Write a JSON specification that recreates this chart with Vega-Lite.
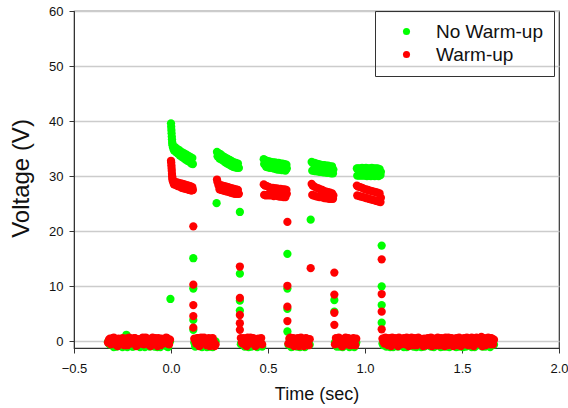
{
  "$schema": "https://vega.github.io/schema/vega-lite/v6.json",
  "width": 485,
  "height": 337,
  "autosize": {"type": "none"},
  "padding": {"left": 74, "top": 11, "right": 9, "bottom": 60},
  "background": "white",
  "data": {"values": [
    {"t":-0.32,"nw":-0.4,"w":0.3},{"t":-0.31,"nw":0.1,"w":-0.55},{"t":-0.30,"nw":-0.7,"w":0.6},{"t":-0.29,"nw":-0.2,"w":0.0},
    {"t":-0.28,"nw":-0.95,"w":-0.7},{"t":-0.27,"nw":0.2,"w":0.5},{"t":-0.26,"nw":-0.5,"w":-0.2},{"t":-0.25,"nw":-1.05,"w":0.6},
    {"t":-0.24,"nw":0.0,"w":-0.7},{"t":-0.23,"nw":1.2,"w":0.2},{"t":-0.22,"nw":-0.6,"w":0.6},{"t":-0.21,"nw":-0.3,"w":-0.4},
    {"t":-0.20,"nw":-0.95,"w":0.1},{"t":-0.19,"nw":0.1,"w":0.6},{"t":-0.18,"nw":-0.6,"w":-0.85},{"t":-0.17,"nw":-0.2,"w":0.4},
    {"t":-0.16,"nw":-1.05,"w":-0.1},{"t":-0.15,"nw":0.0,"w":0.5},{"t":-0.14,"nw":-0.7,"w":-0.55},{"t":-0.13,"nw":0.2,"w":0.7},
    {"t":-0.12,"nw":-0.4,"w":0.0},{"t":-0.11,"nw":-0.95,"w":-0.7},{"t":-0.10,"nw":-0.1,"w":0.4},{"t":-0.09,"nw":-0.6,"w":-0.2},
    {"t":-0.08,"nw":0.1,"w":0.6},{"t":-0.07,"nw":-1.05,"w":-0.85},{"t":-0.06,"nw":-0.3,"w":0.2},{"t":-0.05,"nw":0.0,"w":0.5},
    {"t":-0.04,"nw":-0.7,"w":-0.4},{"t":-0.03,"nw":-0.2,"w":0.1},{"t":-0.02,"nw":-0.95,"w":0.6},{"t":-0.01,"nw":0.1,"w":-0.55},
    {"t":-0.325,"nw":-0.1,"w":-0.2},{"t":-0.315,"nw":-0.6,"w":0.5},{"t":-0.305,"nw":0.2,"w":-0.1},{"t":-0.295,"nw":-1.05,"w":0.7},
    {"t":-0.285,"nw":-0.3,"w":0.2},{"t":-0.275,"nw":-0.7,"w":-0.85},{"t":-0.265,"nw":0.1,"w":0.4},{"t":-0.255,"nw":-0.5,"w":-0.4},
    {"t":-0.245,"nw":-0.2,"w":0.1},{"t":-0.235,"nw":0.6,"w":0.5},{"t":-0.225,"nw":-1.05,"w":-0.7},{"t":-0.215,"nw":0.0,"w":0.7},
    {"t":-0.205,"nw":-0.5,"w":-0.2},{"t":-0.195,"nw":-0.95,"w":0.3},{"t":-0.185,"nw":0.2,"w":0.6},{"t":-0.175,"nw":-0.4,"w":-0.7},
    {"t":-0.165,"nw":-0.7,"w":0.2},{"t":-0.155,"nw":-0.2,"w":-0.4},{"t":-0.145,"nw":0.1,"w":0.7},{"t":-0.135,"nw":-1.05,"w":-0.1},
    {"t":-0.125,"nw":-0.3,"w":0.5},{"t":-0.115,"nw":0.0,"w":0.2},{"t":-0.105,"nw":-0.6,"w":-0.85},{"t":-0.095,"nw":-0.2,"w":0.7},
    {"t":-0.085,"nw":-0.95,"w":-0.2},{"t":-0.075,"nw":0.2,"w":0.3},{"t":-0.065,"nw":-0.5,"w":0.6},{"t":-0.055,"nw":-1.05,"w":-0.7},
    {"t":-0.045,"nw":0.0,"w":0.4},{"t":-0.035,"nw":-0.6,"w":-0.1},{"t":-0.025,"nw":-0.3,"w":0.7},{"t":-0.015,"nw":-1.05,"w":-0.4},
    {"t":-0.005,"nw":0.0,"w":0.3},
    {"t":-0.003,"nw":7.7},
    {"t":0.000,"nw":39.6,"w":32.8},{"t":0.001,"nw":39.0,"w":32.5},{"t":0.002,"nw":38.4,"w":32.0},{"t":0.003,"nw":37.8,"w":31.5},
    {"t":0.004,"nw":37.2,"w":31.0},{"t":0.005,"nw":36.7,"w":30.4},{"t":0.006,"nw":36.2,"w":30.0},{"t":0.007,"nw":35.9,"w":29.6},
    {"t":0.008,"nw":35.6,"w":29.3},{"t":0.010,"nw":35.2,"w":29.0},{"t":0.015,"nw":34.7,"w":28.5},{"t":0.020,"nw":35.3,"w":29.0},
    {"t":0.025,"nw":34.4,"w":28.4},{"t":0.030,"nw":35.0,"w":28.9},{"t":0.035,"nw":34.1,"w":28.2},{"t":0.040,"nw":34.8,"w":28.8},
    {"t":0.045,"nw":33.8,"w":28.1},{"t":0.050,"nw":34.5,"w":28.7},{"t":0.055,"nw":33.5,"w":27.9},{"t":0.060,"nw":34.3,"w":28.6},
    {"t":0.065,"nw":33.3,"w":27.8},{"t":0.070,"nw":34.1,"w":28.5},{"t":0.075,"nw":33.0,"w":27.7},{"t":0.080,"nw":33.9,"w":28.4},
    {"t":0.085,"nw":32.8,"w":27.6},{"t":0.090,"nw":33.7,"w":28.3},{"t":0.095,"nw":32.6,"w":27.5},{"t":0.100,"nw":33.5,"w":28.2},
    {"t":0.105,"nw":32.3,"w":27.4},{"t":0.110,"nw":33.3,"w":28.0},{"t":0.113,"nw":32.2,"w":27.5},
    {"t":0.115,"nw":15.1,"w":20.9},{"t":0.115,"nw":9.6,"w":10.3},{"t":0.115,"nw":3.9,"w":6.6},{"t":0.115,"nw":2.1,"w":4.6},{"t":0.115,"w":2.5},
    {"t":0.12,"nw":-0.2,"w":0.5},{"t":0.13,"nw":-0.7,"w":-0.4},{"t":0.14,"nw":0.1,"w":0.6},{"t":0.15,"nw":-0.5,"w":-0.7},
    {"t":0.16,"nw":-1.05,"w":0.2},{"t":0.17,"nw":-0.1,"w":0.7},{"t":0.18,"nw":-0.6,"w":-0.2},{"t":0.19,"nw":0.2,"w":0.3},
    {"t":0.20,"nw":-0.95,"w":-0.85},{"t":0.21,"nw":-0.3,"w":0.5},{"t":0.22,"nw":-0.7,"w":0.0},{"t":0.23,"nw":0.0,"w":-0.55},
    {"t":0.125,"nw":-0.95,"w":0.1},{"t":0.135,"nw":0.0,"w":0.6},{"t":0.145,"nw":-0.4,"w":-0.85},{"t":0.155,"nw":-0.2,"w":0.7},
    {"t":0.165,"nw":-0.7,"w":-0.1},{"t":0.175,"nw":0.1,"w":0.4},{"t":0.185,"nw":-1.05,"w":-0.7},{"t":0.195,"nw":-0.4,"w":0.6},
    {"t":0.205,"nw":0.1,"w":0.0},{"t":0.215,"nw":-1.05,"w":0.6},{"t":0.225,"nw":-0.5,"w":-0.85},
    {"t":0.235,"nw":25.1},
    {"t":0.237,"nw":34.4,"w":29.4},{"t":0.240,"nw":33.6,"w":28.9},{"t":0.245,"nw":34.2,"w":28.3},{"t":0.250,"nw":33.2,"w":27.6},
    {"t":0.255,"nw":34.0,"w":28.4},{"t":0.260,"nw":33.0,"w":27.5},{"t":0.265,"nw":33.7,"w":28.3},{"t":0.270,"nw":32.8,"w":27.4},
    {"t":0.275,"nw":33.5,"w":28.2},{"t":0.280,"nw":32.5,"w":27.3},{"t":0.285,"nw":33.3,"w":28.1},{"t":0.290,"nw":32.3,"w":27.2},
    {"t":0.295,"nw":33.1,"w":28.0},{"t":0.300,"nw":32.1,"w":27.1},{"t":0.305,"nw":32.9,"w":27.9},{"t":0.310,"nw":31.9,"w":27.0},
    {"t":0.315,"nw":32.7,"w":27.8},{"t":0.320,"nw":31.7,"w":26.9},{"t":0.325,"nw":32.5,"w":27.7},{"t":0.330,"nw":31.6,"w":26.8},
    {"t":0.335,"nw":32.4,"w":27.6},{"t":0.340,"nw":31.5,"w":26.8},{"t":0.345,"nw":32.3,"w":27.5},{"t":0.350,"nw":31.5,"w":26.8},
    {"t":0.355,"nw":23.5,"w":13.6},{"t":0.355,"nw":12.3,"w":7.9},{"t":0.355,"nw":7.4,"w":4.8},{"t":0.355,"nw":5.6,"w":3.3},{"t":0.355,"w":2.1},
    {"t":0.36,"nw":-0.5,"w":0.6},{"t":0.37,"nw":0.1,"w":-0.4},{"t":0.38,"nw":-0.95,"w":0.4},{"t":0.39,"nw":-0.3,"w":-0.85},
    {"t":0.40,"nw":-1.05,"w":0.1},{"t":0.41,"nw":0.2,"w":0.7},{"t":0.42,"nw":-0.4,"w":-0.2},{"t":0.43,"nw":-0.7,"w":0.3},
    {"t":0.44,"nw":0.0,"w":-0.7},{"t":0.45,"nw":-0.6,"w":0.5},{"t":0.46,"nw":-0.2,"w":0.0},{"t":0.47,"nw":-0.95,"w":-0.55},
    {"t":0.365,"nw":-0.2,"w":-0.2},{"t":0.375,"nw":-0.7,"w":0.6},{"t":0.385,"nw":0.1,"w":-0.7},{"t":0.395,"nw":-0.6,"w":0.7},
    {"t":0.405,"nw":-0.3,"w":-0.4},{"t":0.415,"nw":-0.95,"w":0.2},{"t":0.425,"nw":0.0,"w":0.6},{"t":0.435,"nw":-0.5,"w":-0.85},
    {"t":0.445,"nw":-1.05,"w":0.4},{"t":0.455,"nw":0.1,"w":-0.1},{"t":0.465,"nw":-0.4,"w":0.6},
    {"t":0.478,"nw":33.1,"w":28.5},{"t":0.480,"nw":32.2,"w":26.6},{"t":0.485,"nw":32.9,"w":28.3},{"t":0.490,"nw":31.7,"w":26.5},
    {"t":0.495,"nw":32.8,"w":28.2},{"t":0.500,"nw":31.6,"w":26.7},{"t":0.505,"nw":32.7,"w":28.0},{"t":0.510,"nw":31.5,"w":26.5},
    {"t":0.515,"nw":32.6,"w":27.9},{"t":0.520,"nw":31.5,"w":26.6},{"t":0.525,"nw":32.5,"w":27.9},{"t":0.530,"nw":31.4,"w":26.4},
    {"t":0.535,"nw":32.5,"w":27.8},{"t":0.540,"nw":31.3,"w":26.5},{"t":0.545,"nw":32.4,"w":27.8},{"t":0.550,"nw":31.2,"w":26.4},
    {"t":0.555,"nw":32.4,"w":27.7},{"t":0.560,"nw":31.2,"w":26.3},{"t":0.565,"nw":32.3,"w":27.7},{"t":0.570,"nw":31.1,"w":26.3},
    {"t":0.575,"nw":32.3,"w":27.6},{"t":0.580,"nw":31.1,"w":26.2},{"t":0.585,"nw":32.2,"w":27.6},{"t":0.590,"nw":31.0,"w":26.2},
    {"t":0.595,"nw":32.1,"w":27.5},{"t":0.597,"nw":31.4,"w":26.8},
    {"t":0.60,"nw":15.9,"w":21.7},{"t":0.60,"nw":9.6,"w":10.1},{"t":0.60,"nw":5.9,"w":6.3},{"t":0.60,"nw":1.8,"w":3.7},
    {"t":0.61,"nw":-0.3,"w":0.5},{"t":0.62,"nw":-1.05,"w":-0.55},{"t":0.63,"nw":0.1,"w":0.6},{"t":0.64,"nw":-0.5,"w":-0.1},
    {"t":0.65,"nw":-0.95,"w":0.3},{"t":0.66,"nw":0.0,"w":-0.85},{"t":0.67,"nw":-0.6,"w":0.7},{"t":0.68,"nw":-0.2,"w":0.1},
    {"t":0.69,"nw":-1.05,"w":-0.4},{"t":0.70,"nw":0.2,"w":0.5},{"t":0.71,"nw":-0.4,"w":-0.7},
    {"t":0.605,"nw":-0.6,"w":-0.4},{"t":0.615,"nw":-0.1,"w":0.7},{"t":0.625,"nw":-0.95,"w":0.0},{"t":0.635,"nw":-0.3,"w":-0.85},
    {"t":0.645,"nw":0.1,"w":0.5},{"t":0.655,"nw":-0.5,"w":0.6},{"t":0.665,"nw":-1.05,"w":-0.2},{"t":0.675,"nw":0.0,"w":0.4},
    {"t":0.685,"nw":-0.5,"w":-0.85},{"t":0.695,"nw":-0.7,"w":0.6},{"t":0.705,"nw":0.1,"w":0.0},{"t":0.715,"nw":-0.6,"w":0.4},
    {"t":0.72,"nw":22.1,"w":13.3},
    {"t":0.725,"nw":32.6,"w":28.6},{"t":0.728,"nw":31.0,"w":26.6},{"t":0.730,"nw":32.4,"w":28.3},{"t":0.735,"nw":31.0,"w":26.5},
    {"t":0.740,"nw":32.4,"w":28.1},{"t":0.745,"nw":30.9,"w":26.4},{"t":0.750,"nw":32.3,"w":27.9},{"t":0.755,"nw":30.9,"w":26.3},
    {"t":0.760,"nw":32.2,"w":27.8},{"t":0.765,"nw":30.8,"w":26.2},{"t":0.770,"nw":32.1,"w":27.6},{"t":0.775,"nw":30.8,"w":26.2},
    {"t":0.780,"nw":32.0,"w":27.5},{"t":0.785,"nw":30.7,"w":26.1},{"t":0.790,"nw":32.0,"w":27.3},{"t":0.795,"nw":30.7,"w":26.0},
    {"t":0.800,"nw":31.9,"w":27.2},{"t":0.805,"nw":30.6,"w":26.0},{"t":0.810,"nw":31.9,"w":27.1},{"t":0.815,"nw":30.6,"w":25.9},
    {"t":0.820,"nw":31.8,"w":27.0},{"t":0.825,"nw":30.5,"w":25.9},{"t":0.830,"nw":31.8,"w":26.9},{"t":0.835,"nw":30.5,"w":25.9},
    {"t":0.837,"nw":31.2,"w":26.5},
    {"t":0.842,"nw":7.5,"w":12.5},{"t":0.842,"nw":5.4,"w":8.5},{"t":0.842,"w":5.2},{"t":0.842,"w":3.0},
    {"t":0.85,"nw":-0.6,"w":0.6},{"t":0.86,"nw":0.0,"w":-0.2},{"t":0.87,"nw":-0.95,"w":0.4},{"t":0.88,"nw":-0.3,"w":-0.85},
    {"t":0.89,"nw":0.2,"w":0.2},{"t":0.90,"nw":-0.7,"w":0.7},{"t":0.91,"nw":-0.1,"w":-0.55},{"t":0.92,"nw":-1.05,"w":0.3},
    {"t":0.93,"nw":-0.4,"w":-0.1},{"t":0.94,"nw":0.1,"w":0.6},{"t":0.95,"nw":-0.6,"w":-0.7},
    {"t":0.845,"nw":-0.2,"w":-0.55},{"t":0.855,"nw":-0.95,"w":0.3},{"t":0.865,"nw":0.1,"w":0.7},{"t":0.875,"nw":-0.5,"w":-0.2},
    {"t":0.885,"nw":-1.05,"w":-0.85},{"t":0.895,"nw":-0.2,"w":0.5},{"t":0.905,"nw":-0.6,"w":0.0},{"t":0.915,"nw":0.1,"w":0.6},
    {"t":0.925,"nw":-0.7,"w":-0.7},{"t":0.935,"nw":-0.3,"w":0.4},{"t":0.945,"nw":-1.05,"w":0.0},{"t":0.955,"nw":-0.2,"w":0.5},
    {"t":0.958,"nw":31.4,"w":28.3},{"t":0.960,"nw":30.1,"w":26.5},{"t":0.965,"nw":31.4,"w":28.1},{"t":0.970,"nw":30.1,"w":26.4},
    {"t":0.975,"nw":31.4,"w":28.0},{"t":0.980,"nw":30.1,"w":26.3},{"t":0.985,"nw":31.5,"w":27.9},{"t":0.990,"nw":30.1,"w":26.2},
    {"t":0.995,"nw":31.4,"w":27.7},{"t":1.000,"nw":30.1,"w":26.1},{"t":1.005,"nw":31.5,"w":27.6},{"t":1.010,"nw":30.0,"w":26.0},
    {"t":1.015,"nw":31.4,"w":27.5},{"t":1.020,"nw":30.1,"w":25.9},{"t":1.025,"nw":31.4,"w":27.4},{"t":1.030,"nw":30.0,"w":25.8},
    {"t":1.035,"nw":31.5,"w":27.3},{"t":1.040,"nw":30.1,"w":25.7},{"t":1.045,"nw":31.4,"w":27.2},{"t":1.050,"nw":30.0,"w":25.6},
    {"t":1.055,"nw":31.4,"w":27.1},{"t":1.060,"nw":30.1,"w":25.5},{"t":1.065,"nw":31.4,"w":27.0},{"t":1.070,"nw":30.0,"w":25.4},
    {"t":1.075,"nw":31.3,"w":26.9},{"t":1.080,"nw":30.2,"w":25.3},{"t":1.082,"nw":30.8,"w":26.1},
    {"t":1.086,"nw":17.4,"w":14.9},{"t":1.086,"nw":10.0,"w":8.6},{"t":1.086,"nw":6.6,"w":5.4},{"t":1.086,"nw":3.4,"w":2.2},
    {"t":1.09,"nw":-0.4,"w":0.5},{"t":1.10,"nw":0.1,"w":-0.4},{"t":1.11,"nw":-0.95,"w":0.6},{"t":1.12,"nw":-0.2,"w":-0.7},
    {"t":1.13,"nw":-1.05,"w":0.2},{"t":1.14,"nw":0.0,"w":0.7},{"t":1.15,"nw":-0.6,"w":-0.2},{"t":1.16,"nw":-0.3,"w":0.4},
    {"t":1.17,"nw":-0.95,"w":-0.85},{"t":1.18,"nw":0.2,"w":0.3},{"t":1.19,"nw":-0.5,"w":0.0},{"t":1.20,"nw":-1.05,"w":0.6},
    {"t":1.21,"nw":-0.1,"w":-0.55},{"t":1.22,"nw":-0.7,"w":0.5},{"t":1.23,"nw":0.1,"w":-0.1},{"t":1.24,"nw":-0.4,"w":0.7},
    {"t":1.25,"nw":-0.95,"w":-0.7},{"t":1.26,"nw":-0.2,"w":0.2},{"t":1.27,"nw":-0.6,"w":0.6},{"t":1.28,"nw":0.0,"w":-0.4},
    {"t":1.29,"nw":-1.05,"w":0.4},{"t":1.30,"nw":-0.3,"w":-0.85},{"t":1.31,"nw":0.2,"w":0.1},{"t":1.32,"nw":-0.7,"w":0.5},
    {"t":1.33,"nw":-0.1,"w":-0.2},{"t":1.34,"nw":-0.95,"w":0.7},{"t":1.35,"nw":-0.4,"w":-0.55},{"t":1.36,"nw":0.1,"w":0.3},
    {"t":1.37,"nw":-0.6,"w":-0.7},{"t":1.38,"nw":-0.2,"w":0.6},{"t":1.39,"nw":-1.05,"w":0.0},{"t":1.40,"nw":0.0,"w":0.4},
    {"t":1.41,"nw":-0.5,"w":-0.85},{"t":1.42,"nw":-0.95,"w":0.2},{"t":1.43,"nw":0.1,"w":0.7},{"t":1.44,"nw":-0.3,"w":-0.4},
    {"t":1.45,"nw":-0.7,"w":0.5},{"t":1.46,"nw":-0.1,"w":-0.1},{"t":1.47,"nw":-1.05,"w":0.6},{"t":1.48,"nw":-0.4,"w":-0.7},
    {"t":1.49,"nw":0.2,"w":0.3},{"t":1.50,"nw":-0.6,"w":0.0},{"t":1.51,"nw":-0.2,"w":0.6},{"t":1.52,"nw":-0.95,"w":-0.55},
    {"t":1.53,"nw":0.0,"w":0.4},{"t":1.54,"nw":-0.5,"w":-0.2},{"t":1.55,"nw":-1.05,"w":0.7},{"t":1.56,"nw":-0.3,"w":-0.85},
    {"t":1.57,"nw":0.1,"w":0.2},{"t":1.58,"nw":-0.7,"w":0.5},{"t":1.59,"nw":-0.2,"w":-0.4},{"t":1.60,"nw":-0.6,"w":0.8},
    {"t":1.61,"nw":0.0,"w":0.1},{"t":1.62,"nw":-0.95,"w":-0.7},{"t":1.63,"nw":-0.4,"w":0.4},{"t":1.64,"nw":0.1,"w":-0.2},
    {"t":1.65,"nw":-0.7,"w":0.6},{"t":1.66,"nw":-0.3,"w":-0.55},{"t":1.665,"nw":-0.6,"w":0.3},
    {"t":1.095,"nw":-0.7,"w":-0.1},{"t":1.105,"nw":-0.3,"w":0.7},{"t":1.115,"nw":0.1,"w":-0.2},{"t":1.125,"nw":-0.6,"w":0.6},
    {"t":1.135,"nw":-0.4,"w":-0.85},{"t":1.145,"nw":-1.05,"w":0.3},{"t":1.155,"nw":0.1,"w":0.6},{"t":1.165,"nw":-0.7,"w":-0.1},
    {"t":1.175,"nw":-0.2,"w":0.7},{"t":1.185,"nw":-0.6,"w":-0.55},{"t":1.195,"nw":0.0,"w":0.4},{"t":1.205,"nw":-0.5,"w":-0.1},
    {"t":1.215,"nw":-1.05,"w":0.7},{"t":1.225,"nw":-0.3,"w":-0.85},{"t":1.235,"nw":-0.7,"w":0.3},{"t":1.245,"nw":0.1,"w":-0.2},
    {"t":1.255,"nw":-0.4,"w":0.6},{"t":1.265,"nw":-1.05,"w":-0.7},{"t":1.275,"nw":-0.3,"w":0.7},{"t":1.285,"nw":-0.6,"w":0.0},
    {"t":1.295,"nw":0.1,"w":-0.55},{"t":1.305,"nw":-0.95,"w":0.5},{"t":1.315,"nw":-0.5,"w":-0.7},{"t":1.325,"nw":-0.1,"w":0.6},
    {"t":1.335,"nw":-0.6,"w":0.1},{"t":1.345,"nw":0.0,"w":-0.85},{"t":1.355,"nw":-1.05,"w":0.5},{"t":1.365,"nw":-0.3,"w":-0.2},
    {"t":1.375,"nw":-0.7,"w":0.7},{"t":1.385,"nw":0.1,"w":-0.7},{"t":1.395,"nw":-0.5,"w":0.6},{"t":1.405,"nw":-0.95,"w":-0.1},
    {"t":1.415,"nw":-0.1,"w":0.7},{"t":1.425,"nw":-0.4,"w":-0.7},{"t":1.435,"nw":-1.05,"w":0.0},{"t":1.445,"nw":0.0,"w":0.6},
    {"t":1.455,"nw":-0.5,"w":-0.85},{"t":1.465,"nw":-0.3,"w":0.4},{"t":1.475,"nw":0.1,"w":0.0},{"t":1.485,"nw":-0.95,"w":0.7},
    {"t":1.495,"nw":-0.1,"w":-0.85},{"t":1.505,"nw":-1.05,"w":0.4},{"t":1.515,"nw":-0.4,"w":-0.2},{"t":1.525,"nw":0.2,"w":0.7},
    {"t":1.535,"nw":-0.7,"w":-0.7},{"t":1.545,"nw":-0.2,"w":0.2},{"t":1.555,"nw":-0.6,"w":0.6},{"t":1.565,"nw":-1.05,"w":-0.55},
    {"t":1.575,"nw":-0.3,"w":0.7},{"t":1.585,"nw":0.1,"w":-0.1},{"t":1.595,"nw":-0.5,"w":0.5},{"t":1.605,"nw":-0.95,"w":-0.85},
    {"t":1.615,"nw":-0.2,"w":0.6},{"t":1.625,"nw":-0.6,"w":0.0},{"t":1.635,"nw":0.0,"w":0.7},{"t":1.645,"nw":-1.05,"w":-0.55},
    {"t":1.655,"nw":-0.4,"w":0.5}
  ]},
  "transform": [
    {"fold": ["nw", "w"], "as": ["key", "v"]},
    {"filter": "isValid(datum.v)"}
  ],
  "mark": {"type": "circle", "size": 68, "opacity": 1},
  "encoding": {
    "x": {
      "field": "t", "type": "quantitative",
      "scale": {"domain": [-0.5, 2.0], "nice": false, "zero": false},
      "axis": {
        "values": [-0.5, 0, 0.5, 1, 1.5, 2],
        "format": ".1f",
        "grid": false,
        "title": "Time (sec)",
        "titleFontSize": 18,
        "titleFontWeight": "normal",
        "titleFont": "Liberation Sans",
        "titleColor": "#111",
        "titleBaseline": "alphabetic",
        "titleY": 51,
        "labelFont": "Liberation Sans",
        "labelFontSize": 13,
        "labelColor": "#111",
        "labelPadding": 9,
        "tickSize": 5,
        "tickColor": "#333",
        "domainColor": "#333",
        "labelFlush": false
      }
    },
    "y": {
      "field": "v", "type": "quantitative",
      "scale": {"domain": [-1.2, 60], "nice": false, "zero": false},
      "axis": {
        "values": [0, 10, 20, 30, 40, 50, 60],
        "grid": true,
        "gridColor": "#cccccc",
        "gridWidth": 1.3,
        "title": "Voltage (V)",
        "titleFontSize": 24,
        "titleFontWeight": "normal",
        "titleFont": "Liberation Sans",
        "titleColor": "#111",
        "titleAngle": -90,
        "titleBaseline": "alphabetic",
        "titleAlign": "center",
        "titleX": -45.5,
        "titleY": 167,
        "labelFont": "Liberation Sans",
        "labelFontSize": 13,
        "labelColor": "#111",
        "labelPadding": 6,
        "tickSize": 5,
        "tickColor": "#333",
        "domainColor": "#333",
        "labelFlush": false
      }
    },
    "color": {
      "field": "key", "type": "nominal",
      "scale": {"domain": ["nw", "w"], "range": ["#00ff00", "#ff0000"]},
      "legend": {
        "title": null,
        "orient": "none",
        "legendX": 301,
        "legendY": 0,
        "padding": 11,
        "strokeColor": "#333",
        "symbolType": "circle",
        "symbolSize": 50,
        "symbolOffset": 11,
        "labelOffset": 20,
        "rowPadding": 3,
        "labelFont": "Liberation Sans",
        "labelFontSize": 19,
        "labelColor": "#111",
        "labelExpr": "datum.label == 'nw' ? 'No Warm-up' : 'Warm-up'"
      }
    },
    "order": {"field": "key", "sort": "ascending"}
  },
  "config": {
    "view": {"stroke": "#333", "strokeWidth": 1.2}
  }
}
